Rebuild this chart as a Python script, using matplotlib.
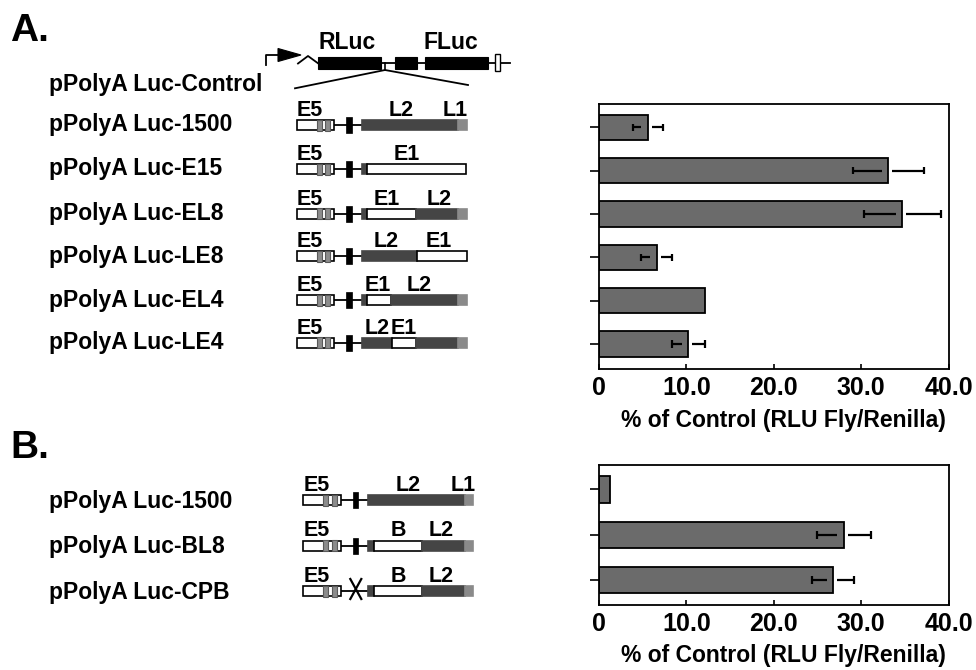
import matplotlib
matplotlib.use("Agg")
import matplotlib.pyplot as plt
from matplotlib.patches import Rectangle, Polygon

plt.rcParams["font.family"] = ["Liberation Sans", "DejaVu Sans"]
plt.rcParams["font.weight"] = "bold"

# ---- data ----
constructs_a = ["pPolyA Luc-1500", "pPolyA Luc-E15", "pPolyA Luc-EL8",
                "pPolyA Luc-LE8", "pPolyA Luc-EL4", "pPolyA Luc-LE4"]
values_a = [5.6, 33.1, 34.7, 6.6, 12.1, 10.2]
errors_a = [1.7, 4.1, 4.4, 1.8, 0.0, 1.9]

constructs_b = ["pPolyA Luc-1500", "pPolyA Luc-BL8", "pPolyA Luc-CPB"]
values_b = [1.3, 28.0, 26.8]
errors_b = [0.0, 3.1, 2.4]

xticks = [0, 10, 20, 30, 40]
xtick_labels = ["0", "10.0", "20.0", "30.0", "40.0"]
xlabel = "% of Control (RLU Fly/Renilla)"

# insert segments (kind, start, end) along the 105-unit insert
# L = L2 region, T = L1 tail, E/B = white E1 / B region, J = small junction
inserts_a = [
    [("L", 0, 96.6), ("T", 96.6, 105)],
    [("J", 0, 5), ("E", 5, 104.5)],
    [("J", 0, 5.6), ("E", 5.6, 54.3), ("L", 54.3, 96.6), ("T", 96.6, 105)],
    [("L", 0, 55), ("E", 55, 105)],
    [("J", 0, 5.6), ("E", 5.6, 29.3), ("L", 29.3, 96.6), ("T", 96.6, 105)],
    [("L", 0, 30), ("E", 30, 54.3), ("L", 54.3, 96.6), ("T", 96.6, 105)],
]
labels_a = [
    [("L2", 104), ("L1", 158)],
    [("E1", 110)],
    [("E1", 90), ("L2", 142)],
    [("L2", 89), ("E1", 142)],
    [("E1", 81), ("L2", 122)],
    [("L2", 80), ("E1", 107)],
]
inserts_b = [
    [("L", 0, 96.7), ("T", 96.7, 105)],
    [("J", 0, 5.7), ("B", 5.7, 53.4), ("L", 53.4, 96.7), ("T", 96.7, 105)],
    [("J", 0, 5.7), ("B", 5.7, 53.4), ("L", 53.4, 96.7), ("T", 96.7, 105)],
]
labels_b = [
    [("L2", 105), ("L1", 160)],
    [("B", 95), ("L2", 138)],
    [("B", 95), ("L2", 138)],
]
deleted_b = [False, False, True]

seg_colors = {"L": "#454545", "T": "#8a8a8a", "E": "white", "B": "white", "J": "#454545"}

W, H = 976, 670
fig = plt.figure(figsize=(W / 100, H / 100), dpi=100)

# overlay in pixel coordinates for text and the schematics
bg = fig.add_axes([0, 0, 1, 1])
bg.set_xlim(0, W)
bg.set_ylim(H, 0)
bg.axis("off")


def draw_row(x0, y, segs, labels, deleted=False):
    h = 10
    bg.plot([x0 + 37, x0 + 65], [y, y], color="k", lw=1.3, zorder=2)
    bg.add_patch(Rectangle((x0, y - h / 2), 37.3, h, fc="white", ec="k", lw=1.2, zorder=3))
    for b0, b1 in [(20, 25), (28.3, 33.3)]:
        bg.add_patch(Rectangle((x0 + b0, y - h / 2 - 0.5), b1 - b0, h + 1,
                               fc="#8c8c8c", ec="#5a5a5a", lw=0.8, zorder=4))
    if deleted:
        bg.plot([x0 + 47, x0 + 58], [y - 12, y + 8], color="k", lw=1.6, zorder=3)
        bg.plot([x0 + 58, x0 + 47], [y - 12, y + 8], color="k", lw=1.6, zorder=3)
    else:
        bg.add_patch(Rectangle((x0 + 49.3, y - 8), 5.7, 16, fc="k", ec="k", lw=0.5, zorder=3))
    for kind, s, e in segs:
        ec = "k" if kind in ("E", "B") else seg_colors[kind]
        bg.add_patch(Rectangle((x0 + 65 + s, y - h / 2), e - s, h, fc=seg_colors[kind],
                               ec=ec, lw=1.2, zorder=3))
    bg.text(x0 + 13, y - 9, "E5", ha="center", va="baseline", fontsize=15.5)
    for t, xo in labels:
        bg.text(x0 + xo, y - 9, t, ha="center", va="baseline", fontsize=15.5)


# panel letters
bg.text(10, 41, "A.", fontsize=28, va="baseline", ha="left")
bg.text(10, 458, "B.", fontsize=28, va="baseline", ha="left")

# control construct
bg.text(49, 91, "pPolyA Luc-Control", fontsize=16.5, va="baseline", ha="left")
yc = 62.5
bg.plot([265.7, 265.7, 280], [65, 54.5, 54.5], color="k", lw=1.3)
bg.add_patch(Polygon([(278, 48.5), (301, 55), (278, 61.5)], closed=True, fc="k", ec="k", lw=0.8))
bg.plot([298, 308, 318.3], [63.5, 56, 63.5], color="k", lw=1.3)
bg.plot([380, 510], [yc, yc], color="k", lw=1.3, zorder=1)
for x_a, x_b in [(318.3, 380.7), (395, 417.3), (425, 488.3)]:
    bg.add_patch(Rectangle((x_a, yc - 6), x_b - x_a, 12, fc="k", ec="k", lw=0.8, zorder=2))
bg.add_patch(Rectangle((495, 54), 4.5, 17, fc="white", ec="k", lw=1.0, zorder=2))
bg.plot([385, 385], [yc, 70], color="k", lw=1.2)
bg.plot([295, 385, 468], [88.3, 70, 85], color="k", lw=1.3)
bg.text(346.7, 49, "RLuc", fontsize=16.5, ha="center", va="baseline")
bg.text(451, 49, "FLuc", fontsize=16.5, ha="center", va="baseline")

# panel A rows
rows_a = [125, 169, 213.7, 256, 300, 342.7]
for i, name in enumerate(constructs_a):
    bg.text(49, rows_a[i] + 6.5, name, fontsize=16.5, va="baseline", ha="left")
    draw_row(296.7, rows_a[i], inserts_a[i], labels_a[i])

# panel B rows
rows_b = [500, 545.5, 591]
for i, name in enumerate(constructs_b):
    bg.text(49, rows_b[i] + 8, name, fontsize=16.5, va="baseline", ha="left")
    draw_row(303.3, rows_b[i], inserts_b[i], labels_b[i], deleted_b[i])


def bar_panel(rect, vals, errs, ylim, bar_h):
    ax = fig.add_axes(rect)
    ax.barh(range(len(vals)), vals, height=bar_h, color="#6b6b6b", edgecolor="k", lw=1.3, zorder=2)
    for i, (v, e) in enumerate(zip(vals, errs)):
        if e <= 0:
            continue
        ax.hlines(i, v - e, v - 0.75, color="k", lw=1.6, zorder=3)
        ax.hlines(i, v + 0.45, v + e, color="k", lw=1.6, zorder=3)
        ax.vlines([v - e, v + e], i - 0.085, i + 0.085, color="k", lw=1.6, zorder=3)
    ax.set_xlim(0, 40)
    ax.set_ylim(*ylim)
    ax.set_yticks(range(len(vals)))
    ax.set_yticklabels([])
    ax.tick_params(axis="y", direction="out", length=6.5, width=1.2)
    ax.set_xticks(xticks)
    ax.set_xticklabels(xtick_labels, fontsize=18, fontweight="bold")
    ax.tick_params(axis="x", direction="in", length=3.5, width=1.2, pad=5.5)
    for s in ax.spines.values():
        s.set_linewidth(1.3)
    ax.patch.set_alpha(0)
    return ax


bar_panel([599 / W, 1 - 368.7 / H, 349.7 / W, 264.7 / H], values_a, errors_a, (5.57, -0.54), 0.59)
bar_panel([599 / W, 1 - 604.7 / H, 349.7 / W, 139.7 / H], values_b, errors_b, (2.54, -0.54), 0.58)

bg.text(783, 427, xlabel, fontsize=16.5, ha="center", va="baseline")
bg.text(783, 662, xlabel, fontsize=16.5, ha="center", va="baseline")

fig.savefig("out.png", dpi=100)
